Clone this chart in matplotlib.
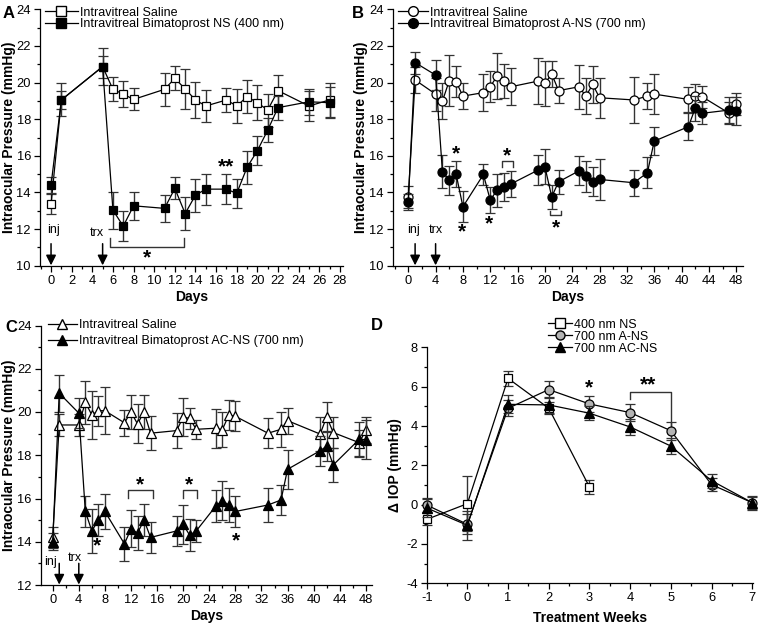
import matplotlib
matplotlib.use('Agg')
import matplotlib.pyplot as plt
from matplotlib.lines import Line2D
from matplotlib.ticker import MultipleLocator

plt.rcParams['font.family'] = ['Liberation Sans', 'DejaVu Sans']
plt.rcParams['axes.unicode_minus'] = False

# ---- data ----
# panel A: 400 nm NS
a_days = [0, 1, 5, 6, 7, 8, 11, 12, 13, 14, 15, 17, 18, 19, 20, 21, 22, 25, 27]
a_sal = [13.35, 19.05, 20.87, 19.63, 19.37, 19.08, 19.63, 20.23, 19.65, 19.05,
         18.72, 19.05, 18.72, 19.23, 18.9, 18.5, 19.56, 18.72, 19.05]
a_sal_err = [0.55, 0.5, 0.6, 0.65, 0.7, 0.6, 0.9, 0.65, 1.1, 1.0,
             0.85, 0.65, 0.95, 0.9, 0.95, 0.9, 0.85, 0.8, 0.95]
a_ns = [14.4, 19.05, 20.87, 13.03, 12.16, 13.27, 13.13, 14.22, 12.85, 13.85,
        14.18, 14.18, 13.95, 15.37, 16.28, 17.4, 18.63, 18.95, 18.9]
a_ns_err = [0.45, 0.9, 1.0, 1.0, 0.8, 0.75, 0.75, 0.6, 0.9, 0.9,
            0.85, 0.8, 0.8, 0.9, 0.8, 0.65, 0.65, 0.7, 0.85]

# panel B: 700 nm A-NS
b_days = [0, 1, 4, 5, 6, 7, 8, 11, 12, 13, 14, 15, 19, 20, 21, 22, 25, 26, 27, 28,
          33, 35, 36, 41, 42, 43, 47, 48]
b_sal = [13.76, 20.14, 19.37, 18.99, 20.1, 20.05, 19.26, 19.45, 19.77, 20.36,
         20.08, 19.77, 20.08, 19.95, 20.47, 19.56, 19.77, 19.26, 19.9, 19.17,
         19.05, 19.26, 19.37, 19.08, 19.26, 19.23, 18.32, 18.83]
b_sal_err = [0.6, 0.7, 0.9, 1.0, 1.4, 0.85, 0.7, 1.0, 0.85, 1.25,
             0.95, 1.0, 1.25, 1.25, 0.7, 0.7, 1.2, 1.0, 1.0, 1.1,
             1.25, 0.7, 1.1, 0.7, 0.65, 0.6, 0.6, 0.6]
b_ans = [13.49, 21.09, 20.41, 15.13, 14.67, 15.0, 13.22, 14.98, 13.58, 14.13,
         14.31, 14.46, 15.22, 15.4, 13.76, 14.58, 15.18, 14.89, 14.58, 14.71,
         14.53, 15.07, 16.8, 17.59, 18.59, 18.32, 18.5, 18.44]
b_ans_err = [0.45, 0.6, 0.8, 0.9, 0.8, 0.7, 0.85, 0.6, 0.7, 0.9,
             0.75, 0.7, 0.8, 0.95, 0.65, 0.65, 0.8, 0.85, 0.8, 1.1,
             0.7, 0.85, 0.75, 0.75, 0.7, 0.6, 0.7, 0.75]

# panel C: 700 nm AC-NS
c_days = b_days
c_sal = [14.2, 19.4, 19.4, 20.45, 19.86, 20.06, 20.06, 19.5, 20.0, 19.45,
         20.0, 19.02, 19.14, 19.77, 19.7, 19.2, 19.25, 19.18, 19.86, 19.8,
         19.02, 19.2, 19.6, 18.98, 19.78, 19.05, 18.58, 19.16]
c_sal_err = [0.5, 0.5, 0.5, 1.0, 1.1, 0.7, 1.1, 0.6, 0.8, 0.9,
             0.8, 0.8, 0.8, 0.9, 0.5, 0.45, 0.9, 0.8, 0.7, 0.7,
             0.7, 0.8, 0.6, 0.8, 0.7, 0.7, 0.6, 0.6]
c_acns = [14.0, 20.87, 19.95, 15.4, 14.5, 15.0, 15.4, 13.9, 14.6, 14.4,
          15.0, 14.2, 14.5, 14.8, 14.3, 14.5, 15.65, 15.9, 15.7, 15.4,
          15.7, 15.93, 17.35, 18.21, 18.42, 17.55, 18.74, 18.72]
c_acns_err = [0.4, 0.85, 0.7, 0.7, 1.0, 0.75, 0.8, 0.8, 0.85, 0.8,
              0.75, 0.7, 0.7, 0.9, 0.75, 0.5, 0.75, 0.9, 0.8, 0.7,
              0.8, 0.7, 0.9, 0.7, 0.7, 0.8, 0.8, 0.9]

# panel D: change in IOP by treatment week
d_weeks = [-1, 0, 1, 2, 3, 4, 5, 6, 7]
d_ns = [-0.75, 0.05, 6.42, 4.9, 0.9]
d_ns_err = [0.3, 1.4, 0.4, 0.3, 0.35]
d_ans = [-0.02, -1.0, 4.9, 5.85, 5.12, 4.68, 3.76, 1.02, 0.1]
d_ans_err = [0.35, 0.5, 0.4, 0.45, 0.4, 0.45, 0.45, 0.35, 0.3]
d_acns = [-0.17, -1.05, 5.1, 5.07, 4.65, 3.95, 2.98, 1.22, 0.1]
d_acns_err = [0.45, 0.75, 0.45, 0.4, 0.35, 0.4, 0.4, 0.35, 0.35]

W, H = 759, 625
fig = plt.figure(figsize=(W / 100, H / 100), dpi=100)


def px_axes(l, t, r, b):
    return fig.add_axes([l / W, 1 - b / H, (r - l) / W, (b - t) / H])


def style(ax):
    for s in ['top', 'right']:
        ax.spines[s].set_visible(False)
    for s in ['left', 'bottom']:
        ax.spines[s].set_linewidth(0.9)
    ax.tick_params(which='both', direction='out', width=0.9, labelsize=9.3, pad=2.5)
    ax.tick_params(which='major', length=4)
    ax.tick_params(which='minor', length=2.5)


def series(ax, x, y, e, marker, fill, ms=6, z=3):
    ax.errorbar(x, y, yerr=e, marker=marker, ms=ms, mfc=fill, mec='k', mew=0.9,
                color='k', lw=0.9, ecolor='#333333', elinewidth=1.0,
                capsize=3.5, capthick=1.0, zorder=z, clip_on=False)


def star(ax, x, y, txt='*'):
    ax.text(x, y, txt, ha='center', va='center', fontsize=15, fontweight='bold')


def arrow(ax, label, xt, yt, xa, y0, y1):
    ax.text(xt, yt, label, ha='center', va='center', fontsize=9)
    ax.annotate('', xy=(xa, y1), xytext=(xa, y0),
                arrowprops=dict(arrowstyle='-|>', color='k', lw=1.1,
                                mutation_scale=15, shrinkA=0, shrinkB=0),
                annotation_clip=False)


def bracket(ax, x0, x1, y, y0, y1):
    ax.plot([x0, x0, x1, x1], [y0, y, y, y1], color='#333333', lw=1.0,
            clip_on=False)


def legend(ax, handles, labels, x, y, spacing=0.0, hl=2.6):
    ax.legend(handles, labels, loc='upper left', bbox_to_anchor=(x / W, 1 - y / H),
              bbox_transform=fig.transFigure, frameon=False, fontsize=9,
              handlelength=hl, handletextpad=0.2, labelspacing=spacing,
              borderpad=0, borderaxespad=0, numpoints=1)


def proxy(marker, fill, ms=6.5):
    return Line2D([], [], color='k', lw=0.9, marker=marker, ms=ms, mfc=fill, mec='k')


ylab = 'Intraocular Pressure (mmHg)'

# ---- A ----
axA = px_axes(40, 9.3, 343, 265.7)
series(axA, a_days, a_sal, a_sal_err, 's', 'white')
series(axA, a_days, a_ns, a_ns_err, 's', 'black', z=4)
axA.set_xlim(-1.07, 28.3)
axA.set_ylim(10, 24)
axA.xaxis.set_major_locator(MultipleLocator(2))
axA.xaxis.set_minor_locator(MultipleLocator(1))
axA.yaxis.set_major_locator(MultipleLocator(2))
axA.yaxis.set_minor_locator(MultipleLocator(1))
style(axA)
axA.set_xlabel('Days', fontsize=10, fontweight='bold', labelpad=2)
axA.set_ylabel(ylab, fontsize=10, fontweight='bold', labelpad=0.5)
arrow(axA, 'inj', 0.25, 11.95, 0, 11.2, 10.02)
arrow(axA, 'trx', 4.45, 11.8, 5, 11.2, 10.02)
bracket(axA, 5.7, 12.9, 11.03, 11.49, 11.49)
star(axA, 9.27, 10.45)
star(axA, 16.96, 15.4, '**')
legend(axA, [proxy('s', 'white'), proxy('s', 'black')],
       ['Intravitreal Saline', 'Intravitreal Bimatoprost NS (400 nm)'], 45, 6.5)
fig.text(3 / W, 1 - 14 / H, 'A', fontsize=12, fontweight='bold', va='center')

# ---- B ----
axB = px_axes(392.7, 9.3, 743, 265.7)
series(axB, b_days, b_sal, b_sal_err, 'o', 'white', ms=6.5)
series(axB, b_days, b_ans, b_ans_err, 'o', 'black', ms=6.5, z=4)
axB.set_xlim(-2.28, 49.0)
axB.set_ylim(10, 24)
axB.set_xticks(range(0, 49, 4))
axB.xaxis.set_minor_locator(MultipleLocator(2))
axB.yaxis.set_major_locator(MultipleLocator(2))
axB.yaxis.set_minor_locator(MultipleLocator(1))
style(axB)
axB.set_xlabel('Days', fontsize=10, fontweight='bold', labelpad=2)
axB.set_ylabel(ylab, fontsize=10, fontweight='bold', labelpad=0.5)
arrow(axB, 'inj', 0.73, 11.94, 1, 11.2, 10.02)
arrow(axB, 'trx', 4.05, 11.94, 4, 11.2, 10.02)
star(axB, 7.0, 16.1)
bracket(axB, 13.7, 15.3, 15.71, 15.4, 15.4)
star(axB, 14.4, 16.0)
star(axB, 7.8, 11.85)
star(axB, 11.87, 12.27)
bracket(axB, 20.75, 22.3, 12.76, 13.0, 13.0)
star(axB, 21.6, 12.07)
legend(axB, [proxy('o', 'white', 7), proxy('o', 'black', 7)],
       ['Intravitreal Saline', 'Intravitreal Bimatoprost A-NS (700 nm)'], 398, 6.5, hl=2.4)
fig.text(352 / W, 1 - 14 / H, 'B', fontsize=12, fontweight='bold', va='center')

# ---- C ----
axC = px_axes(40.7, 325.5, 371.7, 585)
series(axC, c_days, c_sal, c_sal_err, '^', 'white', ms=7)
series(axC, c_days, c_acns, c_acns_err, '^', 'black', ms=7, z=4)
axC.set_xlim(-1.84, 48.9)
axC.set_ylim(12, 24)
axC.set_xticks(range(0, 49, 4))
axC.xaxis.set_minor_locator(MultipleLocator(2))
axC.yaxis.set_major_locator(MultipleLocator(2))
axC.yaxis.set_minor_locator(MultipleLocator(1))
style(axC)
axC.set_xlabel('Days', fontsize=10, fontweight='bold', labelpad=2)
axC.set_ylabel(ylab, fontsize=10, fontweight='bold', labelpad=0.5)
arrow(axC, 'inj', -0.3, 13.05, 1, 13.0, 12.02)
arrow(axC, 'trx', 3.4, 13.25, 4, 13.0, 12.02)
star(axC, 6.85, 13.8)
bracket(axC, 11.6, 15.3, 16.4, 16.01, 16.01)
star(axC, 13.4, 16.65)
bracket(axC, 19.9, 22.1, 16.4, 16.01, 16.01)
star(axC, 20.96, 16.65)
star(axC, 28.1, 14.06)
legend(axC, [proxy('^', 'white', 7.5), proxy('^', 'black', 7.5)],
       ['Intravitreal Saline', 'Intravitreal Bimatoprost AC-NS (700 nm)'], 48, 319.5,
       spacing=0.3, hl=2.3)
fig.text(5 / W, 1 - 328 / H, 'C', fontsize=12, fontweight='bold', va='center')

# ---- D ----
axD = px_axes(426.7, 347.3, 753, 583.3)
series(axD, d_weeks[:len(d_ns)], d_ns, d_ns_err, 's', 'white', z=3)
series(axD, d_weeks, d_ans, d_ans_err, 'o', '#b4b4b4', ms=6.5, z=4)
series(axD, d_weeks, d_acns, d_acns_err, '^', 'black', ms=6.5, z=5)
axD.set_xlim(-1, 7.02)
axD.set_ylim(-4, 8)
axD.xaxis.set_major_locator(MultipleLocator(1))
axD.xaxis.set_minor_locator(MultipleLocator(0.5))
axD.yaxis.set_major_locator(MultipleLocator(2))
axD.yaxis.set_minor_locator(MultipleLocator(1))
style(axD)
axD.set_xlabel('Treatment Weeks', fontsize=10, fontweight='bold', labelpad=5)
axD.set_ylabel('\u0394 IOP (mmHg)', fontsize=10, fontweight='bold', labelpad=3)
star(axD, 3, 5.95)
bracket(axD, 4, 5, 5.75, 5.37, 4.05)
star(axD, 4.45, 6.1, '**')
legend(axD, [proxy('s', 'white'), proxy('o', '#b4b4b4'), proxy('^', 'black')],
       ['400 nm NS', '700 nm A-NS', '700 nm AC-NS'], 548, 318.5, hl=1.9)
fig.text(371 / W, 1 - 325 / H, 'D', fontsize=12, fontweight='bold', va='center')

fig.savefig('out.png', dpi=100)
